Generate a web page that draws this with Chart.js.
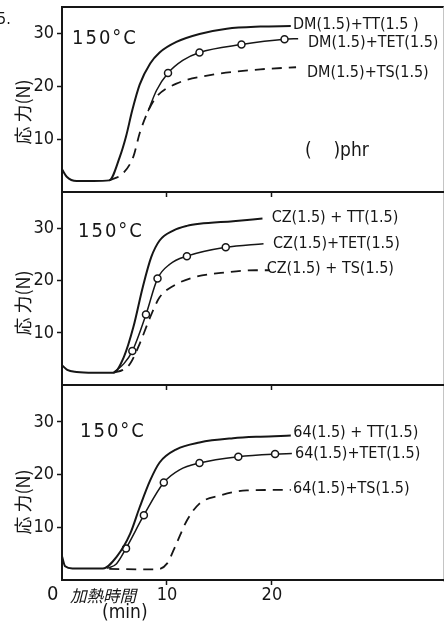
<!DOCTYPE html>
<html>
<head>
<meta charset="utf-8">
<script src="https://cdn.jsdelivr.net/npm/chart.js@4.4.1/dist/chart.umd.min.js"></script>
<style>
  html, body { margin: 0; padding: 0; background: #fff; }
  #wrap { position: relative; width: 445px; height: 621px; overflow: hidden; color: #161616;
          font-family: 'Liberation Sans Narrow', 'DejaVu Sans Condensed', 'Liberation Sans', sans-serif; }
  #wrap canvas { position: absolute; left: 0; }
  #frame { position: absolute; left: 62px; top: 6px; width: 381px; height: 574px;
           border-top: 2px solid #161616; border-right: 1px solid #c4c4c4; }
  .note { position: absolute; white-space: pre; line-height: 1; transform: translateY(-50%); font-size: 16px; }
  .temp { font-size: 20px; letter-spacing: 2px; }
  .big { font-size: 19px; }
  .jp { font-family: 'Noto Sans CJK JP', sans-serif; font-size: 16.5px; font-style: italic; }
  .ytitle { position: absolute; white-space: pre; line-height: 1; font-size: 18px;
            font-family: 'Noto Sans CJK JP', sans-serif; transform: translate(-50%, -50%) rotate(-90deg); }
</style>
</head>
<body>
<div id="wrap">
  <div id="frame"></div>
  <canvas id="c1" width="445" height="200" style="top:0"></canvas>
  <canvas id="c2" width="445" height="201" style="top:192px"></canvas>
  <canvas id="c3" width="445" height="236" style="top:385px"></canvas>
</div>
<script>
// axis ticks
const xTicks = [10, 20];
const yTicks = [10, 20, 30];

// DM panel: [time (min), force (N)]
const dmTT = [[0, 4.3], [0.45, 2.9], [1.4, 2.1], [3, 2.1], [4.5, 2.2], [5.5, 6.6], [6.1, 10.5], [6.7, 15.5], [7.4, 20.3],
              [8.4, 24.3], [9.3, 26.4], [10.9, 28.4], [13.1, 29.9], [15.7, 30.9], [18.9, 31.3], [21.8, 31.4]];
const dmTET = [[8.2, 15.3], [9.0, 19.2], [10.1, 22.5], [11.5, 24.9], [13.1, 26.4], [17.1, 27.9], [21.2, 28.9], [22.5, 29.0]];
const dmTS = [[4.5, 2.2], [5.8, 3.5], [6.8, 6.7], [7.4, 11.1], [8.2, 15.3], [9.0, 18.0], [10.9, 20.5], [14.1, 22.1],
              [18.9, 23.2], [22.3, 23.6]];
const dmCircles = [10.1, 13.1, 17.1, 21.2];

// CZ panel
const czTT = [[0, 3.8], [0.5, 2.9], [1.4, 2.5], [3, 2.35], [4.9, 2.35], [5.9, 5.4], [6.8, 11.1], [7.7, 18.8], [8.5, 24.5],
              [9.3, 27.7], [10.6, 29.6], [11.9, 30.5], [13.1, 30.9], [16.3, 31.4], [19.1, 31.9]];
const czTET = [[4.9, 2.35], [5.9, 4.1], [6.7, 6.5], [8.0, 13.5], [9.1, 20.4], [10.3, 23.2], [11.9, 24.7], [15.6, 26.4], [19.2, 27.1]];
const czTS = [[4.9, 2.35], [5.8, 2.9], [6.5, 4.1], [7.4, 7.9], [8.4, 13.0], [9.3, 16.8], [10.6, 19.0], [12.5, 20.6],
              [15.7, 21.6], [18.5, 22.0], [19.8, 22.0]];
const czCircles = [6.7, 8.0, 9.1, 11.9, 15.6];

// 64 panel
const p64TT = [[0, 4.5], [0.3, 2.6], [1, 2.2], [3.9, 2.2], [5.2, 4.4], [6.5, 8.8], [7.4, 13.8], [8.4, 18.9], [9.3, 22.3],
               [10.9, 24.8], [13.1, 26.1], [16.3, 26.9], [18.9, 27.2], [21.8, 27.4]];
const p64TET = [[4.3, 2.2], [5.2, 3.1], [6.1, 6.0], [7.8, 12.3], [9.7, 18.5], [11.2, 20.9], [13.1, 22.2], [16.8, 23.4],
                [20.3, 23.9], [21.9, 24.0]];
const p64TS = [[4.5, 2.1], [9.0, 2.0], [10.0, 3.1], [10.9, 6.9], [11.9, 11.3], [13.1, 14.5], [15.0, 16.0], [17.6, 17.0], [21.8, 17.1]];
const p64Circles = [6.1, 7.8, 9.7, 13.1, 16.8, 20.3];

const ink = '#161616';
const tickFont = { family: "'Liberation Sans Narrow', 'DejaVu Sans Condensed', 'Liberation Sans', sans-serif", size: 18 };

function toXY(pts) {
  return pts.map(p => ({ x: p[0], y: p[1] }));
}

function makePanel(id, tt, tet, ts, circles, cfg) {
  return new Chart(document.getElementById(id), {
    type: 'line',
    data: {
      datasets: [
        { data: toXY(tt), borderColor: ink, borderWidth: 2, pointRadius: 0 },
        {
          data: toXY(tet), borderColor: ink, borderWidth: 1.5,
          pointRadius: ctx => (ctx.raw && circles.includes(ctx.raw.x)) ? 3.5 : 0,
          pointBackgroundColor: '#fff', pointBorderColor: ink, pointBorderWidth: 1.5
        },
        { data: toXY(ts), borderColor: ink, borderWidth: 1.8, borderDash: [10, 7], pointRadius: 0 }
      ]
    },
    options: {
      responsive: false,
      animation: false,
      events: [],
      datasets: { line: { cubicInterpolationMode: 'monotone', fill: false } },
      layout: { padding: { top: cfg.padTop, right: 2, left: 0, bottom: 0 } },
      plugins: { legend: { display: false }, tooltip: { enabled: false } },
      scales: {
        x: {
          type: 'linear', min: 0, max: 36.3,
          afterBuildTicks: axis => { axis.ticks = xTicks.map(v => ({ value: v })); },
          // fixed axis size, no extra room for edge labels
          afterFit: axis => { axis.height = cfg.xAxisH; axis.paddingLeft = 0; axis.paddingRight = 0; },
          grid: { drawOnChartArea: false, tickLength: 5, tickColor: ink, tickWidth: 1.5 },
          border: { color: ink, width: 2 },
          ticks: { display: cfg.xLabels, color: ink, font: tickFont, padding: 0, maxRotation: 0 }
        },
        y: {
          min: 0, max: cfg.yMax,
          afterBuildTicks: axis => { axis.ticks = yTicks.map(v => ({ value: v })); },
          afterFit: axis => { axis.width = 62; axis.paddingTop = 0; axis.paddingBottom = 0; },
          grid: { drawOnChartArea: false, tickLength: 5, tickColor: ink, tickWidth: 1.5 },
          border: { color: ink, width: 2 },
          ticks: { color: ink, font: tickFont, padding: 3 }
        }
      }
    }
  });
}

makePanel('c1', dmTT, dmTET, dmTS, dmCircles, { padTop: 7, xAxisH: 8, yMax: 35, xLabels: false });
makePanel('c2', czTT, czTET, czTS, czCircles, { padTop: 0, xAxisH: 8, yMax: 37, xLabels: false });
makePanel('c3', p64TT, p64TET, p64TS, p64Circles, { padTop: 0, xAxisH: 41, yMax: 37, xLabels: true });

// text placed on the figure: [left, centre y, text, class]
const notes = [
  [-3, 19, '5.', ''],
  [72, 36.5, '150°C', 'temp'],
  [293, 23.5, 'DM(1.5)+TT(1.5 )', ''],
  [308, 41.7, 'DM(1.5)+TET(1.5)', ''],
  [307, 71.7, 'DM(1.5)+TS(1.5)', ''],
  [305, 149, '(    )phr', 'big'],
  [78, 230, '150°C', 'temp'],
  [271.7, 216.7, 'CZ(1.5) + TT(1.5)', ''],
  [273, 243.3, 'CZ(1.5)+TET(1.5)', ''],
  [266.7, 268.3, 'CZ(1.5) + TS(1.5)', ''],
  [80, 429.5, '150°C', 'temp'],
  [293.3, 431.7, '64(1.5) + TT(1.5)', ''],
  [295, 452.7, '64(1.5)+TET(1.5)', ''],
  [293, 488.3, '64(1.5)+TS(1.5)', ''],
  [47, 593, '0', 'temp'],
  [70, 595, '加熱時間', 'jp'],
  [102, 611, '(min)', 'big']
];
const wrap = document.getElementById('wrap');
notes.forEach(n => {
  const el = document.createElement('div');
  el.className = 'note ' + n[3];
  el.style.left = n[0] + 'px';
  el.style.top = n[1] + 'px';
  el.textContent = n[2];
  wrap.appendChild(el);
});

// vertical axis titles, one per panel
[112, 303, 502].forEach(y => {
  const el = document.createElement('div');
  el.className = 'ytitle';
  el.style.left = '22px';
  el.style.top = y + 'px';
  el.textContent = '応 力(N)';
  wrap.appendChild(el);
});
</script>
</body>
</html>
